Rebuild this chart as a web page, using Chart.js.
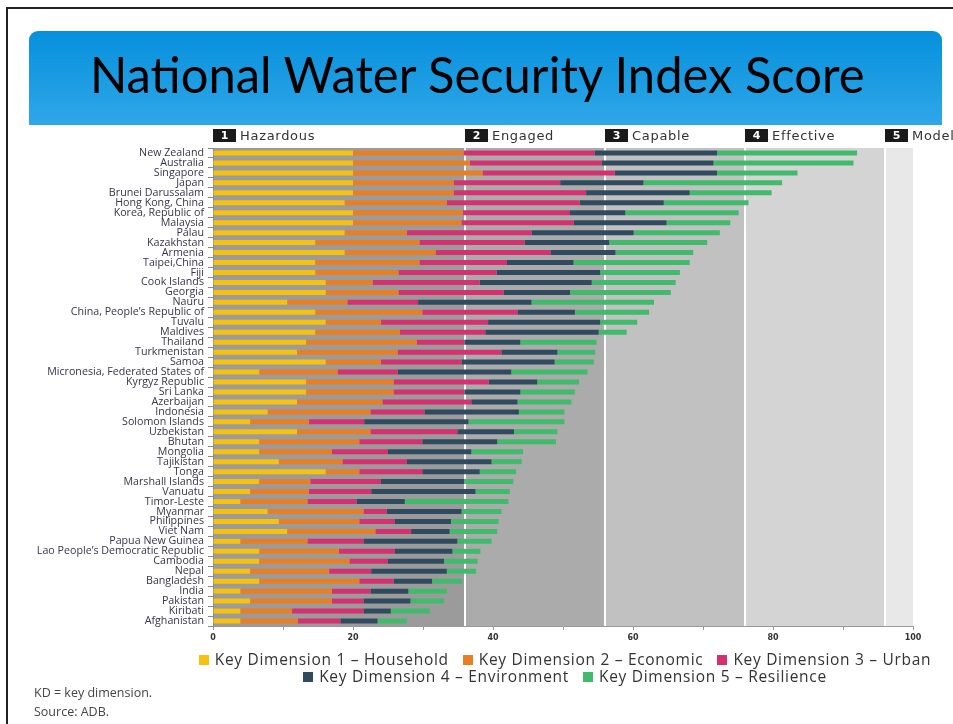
<!DOCTYPE html>
<html>
<head>
<meta charset="utf-8">
<script src="https://cdn.jsdelivr.net/npm/chart.js@4.4.1/dist/chart.umd.min.js"></script>
<style>
  body { margin: 0; background: #fff; width: 953px; height: 724px; overflow: hidden; position: relative; font-family: 'Open Sans', sans-serif; }
  #frame { position: absolute; left: 6px; top: 7px; width: 980px; height: 760px; border-top: 2px solid #222; border-left: 2px solid #222; }
  #titleBox { position: absolute; left: 29px; top: 31px; width: 913px; height: 94px; border-radius: 9px 9px 0 0;
              background: linear-gradient(#0690dc, #2fa7e8); }
  #titleBox h1 { position: absolute; left: 61px; top: 18px; margin: 0; font-family: Lato, sans-serif; line-height: 50px;
                 font-weight: normal; font-size: 50px; color: #000; white-space: nowrap; transform-origin: 0 0; }
  #chart { position: absolute; left: 0; top: 0; }
  #legend { position: absolute; left: 0; top: 651px; width: 1130px; text-align: center; font-size: 15.5px; letter-spacing: 0.7px; color: #333; }
  #legend .row { height: 17px; line-height: 17px; white-space: nowrap; }
  #legend .item { display: inline-block; margin: 0 7px; }
  #legend .box { display: inline-block; width: 10px; height: 10px; margin-right: 6px; vertical-align: 0; }
  #note { position: absolute; left: 34px; top: 683px; font-size: 12.5px; color: #444; line-height: 19px; }
</style>
</head>
<body>
<div id="frame"></div>
<div id="titleBox"><h1 id="title">National Water Security Index Score</h1></div>
<canvas id="chart" width="953" height="724"></canvas>
<div id="legend"></div>
<div id="note">KD = key dimension.<br>Source: ADB.</div>
<script>
// Pays / économies, du meilleur au plus faible score
const countries = [
  'New Zealand', 'Australia', 'Singapore', 'Japan', 'Brunei Darussalam', 'Hong Kong, China',
  'Korea, Republic of', 'Malaysia', 'Palau', 'Kazakhstan', 'Armenia', 'Taipei,China', 'Fiji',
  'Cook Islands', 'Georgia', 'Nauru', 'China, People\u2019s Republic of', 'Tuvalu', 'Maldives',
  'Thailand', 'Turkmenistan', 'Samoa', 'Micronesia, Federated States of', 'Kyrgyz Republic',
  'Sri Lanka', 'Azerbaijan', 'Indonesia', 'Solomon Islands', 'Uzbekistan', 'Bhutan', 'Mongolia',
  'Tajikistan', 'Tonga', 'Marshall Islands', 'Vanuatu', 'Timor-Leste', 'Myanmar', 'Philippines',
  'Viet Nam', 'Papua New Guinea', 'Lao People\u2019s Democratic Republic', 'Cambodia', 'Nepal',
  'Bangladesh', 'India', 'Pakistan', 'Kiribati', 'Afghanistan'
];

const kd1 = [20, 20, 20, 20, 20, 18.8, 20, 20, 18.8, 14.6,
  18.8, 14.6, 14.6, 16.1, 16.1, 10.6, 14.6, 16.1, 14.6, 13.3,
  12.0, 16.1, 6.6, 13.3, 13.3, 12.0, 7.8, 5.3, 12.0, 6.6,
  6.6, 9.4, 16.1, 6.6, 5.3, 3.9, 7.8, 9.4, 10.6, 3.9,
  6.6, 6.6, 5.3, 6.6, 3.9, 5.3, 3.9, 3.9];
const kd2 = [15.8, 16.7, 18.5, 14.4, 14.4, 14.6, 15.7, 15.5, 8.9, 14.9,
  13.0, 14.9, 11.9, 6.7, 10.4, 8.6, 15.3, 7.9, 12.1, 15.8,
  14.4, 7.9, 11.2, 12.5, 12.5, 12.2, 14.7, 8.4, 10.5, 14.3,
  10.4, 9.1, 4.8, 7.3, 8.4, 9.6, 13.7, 11.5, 12.6, 9.6,
  11.4, 12.9, 11.3, 14.3, 13.1, 11.7, 7.4, 8.2];
const kd3 = [18.7, 18.8, 18.9, 15.2, 18.9, 19.0, 15.3, 16.0, 17.8, 15.0,
  16.4, 12.5, 14.0, 15.3, 15.0, 10.1, 13.6, 15.3, 12.2, 6.8,
  14.8, 11.5, 8.6, 13.6, 10.1, 12.7, 7.7, 7.9, 12.4, 9.0,
  8.0, 9.2, 9.0, 10.1, 8.9, 7.0, 3.3, 5.1, 5.1, 8.0,
  8.0, 5.5, 6.0, 4.9, 5.5, 4.5, 10.2, 6.1];
const kd4 = [17.5, 16.0, 14.6, 11.9, 14.8, 12.0, 7.9, 13.3, 14.6, 12.1,
  9.3, 9.5, 14.8, 16.0, 9.5, 16.2, 8.2, 16.0, 16.2, 8.0,
  8.0, 13.3, 16.2, 6.9, 8.0, 6.6, 13.5, 14.9, 8.1, 10.7,
  11.9, 12.1, 8.2, 11.9, 14.9, 6.9, 10.7, 8.0, 5.5, 13.4,
  8.2, 8.0, 10.8, 5.5, 5.4, 6.7, 3.9, 5.3];
const kd5 = [20.0, 20.0, 11.5, 19.8, 11.7, 12.1, 16.2, 9.1, 12.3, 14.0,
  11.1, 16.6, 11.4, 12.0, 14.4, 17.5, 10.6, 5.3, 4.0, 10.9,
  5.4, 5.6, 10.9, 6.0, 7.8, 7.7, 6.5, 13.7, 6.2, 8.4,
  7.4, 4.3, 5.2, 7.0, 4.9, 14.8, 5.7, 6.8, 6.8, 4.9,
  4.0, 4.8, 4.2, 4.3, 5.5, 4.8, 5.6, 4.2];

const seriesNames = [
  'Key Dimension 1 \u2013 Household', 'Key Dimension 2 \u2013 Economic', 'Key Dimension 3 \u2013 Urban',
  'Key Dimension 4 \u2013 Environment', 'Key Dimension 5 \u2013 Resilience'
];
const seriesColors = ['#f6c10f', '#e97f24', '#d5306f', '#304b5f', '#40ba6b'];

// Niveaux de sécurité hydrique (début de chaque zone sur l'axe)
const stageStarts = [0, 36, 56, 76, 96];
const stageEnds = [36, 56, 76, 96, 100];
const stageNames = ['Hazardous', 'Engaged', 'Capable', 'Effective', 'Model'];
const stageColors = ['#9b9b9b', '#ababab', '#c1c1c1', '#d4d4d4', '#e8e8e8'];

// Titre : largeur ramenée à celle de la diapo d'origine
const title = document.getElementById('title');
title.style.transform = 'scaleX(' + (775 / title.offsetWidth) + ')';

// Fond en bandes + libellés des niveaux
const bandesPlugin = {
  id: 'bandes',
  beforeDraw(chart) {
    const { ctx, chartArea, scales } = chart;
    const x = scales.x;
    ctx.save();
    stageStarts.forEach((v, i) => {
      const x0 = x.getPixelForValue(v);
      const x1 = x.getPixelForValue(stageEnds[i]);
      ctx.fillStyle = stageColors[i];
      ctx.fillRect(x0, chartArea.top, x1 - x0, chartArea.bottom - chartArea.top);
    });
    ctx.fillStyle = '#fff';
    stageStarts.slice(1).forEach(v => {
      const px = x.getPixelForValue(v);
      ctx.fillRect(px - 1, chartArea.top, 2, chartArea.bottom - chartArea.top);
    });
    ctx.restore();
  },
  afterDraw(chart) {
    const { ctx, scales } = chart;
    const x = scales.x;
    ctx.save();
    stageStarts.forEach((v, i) => {
      const px = x.getPixelForValue(v);
      ctx.fillStyle = '#1a1a1a';
      ctx.fillRect(px, 129, 23, 13);
      ctx.fillStyle = '#fff';
      ctx.font = 'bold 11px "DejaVu Sans"';
      ctx.textAlign = 'center';
      ctx.textBaseline = 'middle';
      ctx.fillText(String(i + 1), px + 11.5, 136);
      ctx.fillStyle = '#333';
      ctx.font = '13px "DejaVu Sans"';
      ctx.letterSpacing = '0.7px';
      ctx.textAlign = 'left';
      ctx.fillText(stageNames[i], px + 27, 137);
      ctx.letterSpacing = '0px';
    });
    ctx.restore();
  }
};

const series = [kd1, kd2, kd3, kd4, kd5];

new Chart(document.getElementById('chart'), {
  type: 'bar',
  data: {
    labels: countries,
    datasets: series.map((d, i) => ({
      label: seriesNames[i],
      data: d,
      backgroundColor: seriesColors[i],
      borderWidth: 0,
      barPercentage: 0.5,
      categoryPercentage: 1
    }))
  },
  options: {
    indexAxis: 'y',
    responsive: false,
    animation: false,
    layout: { padding: { top: 148, right: 40, bottom: 78, left: 0 } },
    scales: {
      x: {
        stacked: true,
        min: 0,
        max: 100,
        afterFit: s => { s.height = 20; },
        grid: { drawOnChartArea: false, tickLength: 4, color: '#999' },
        border: { color: '#999' },
        ticks: {
          stepSize: 10,
          autoSkip: false,
          maxRotation: 0,
          padding: 3,
          color: '#333',
          font: { family: 'DejaVu Sans', size: 8, weight: 'bold' },
          callback: v => (v % 20 === 0 ? v : '')
        }
      },
      y: {
        stacked: true,
        afterFit: s => { s.width = 213; },
        grid: { drawOnChartArea: false, tickLength: 5, color: '#888', offset: true },
        border: { color: '#888' },
        ticks: {
          autoSkip: false,
          padding: 4,
          color: '#363648',
          font: { family: 'Open Sans', size: 10.7 }
        }
      }
    },
    plugins: {
      legend: { display: false },
      tooltip: { enabled: false }
    }
  },
  plugins: [bandesPlugin]
});

// Légende HTML sur deux lignes
const legend = document.getElementById('legend');
[[0, 1, 2], [3, 4]].forEach(rowIdx => {
  const row = document.createElement('div');
  row.className = 'row';
  rowIdx.forEach(i => {
    const item = document.createElement('span');
    item.className = 'item';
    item.innerHTML = '<span class="box" style="background:' + seriesColors[i] + '"></span>' + seriesNames[i];
    row.appendChild(item);
  });
  legend.appendChild(row);
});
</script>
</body>
</html>
